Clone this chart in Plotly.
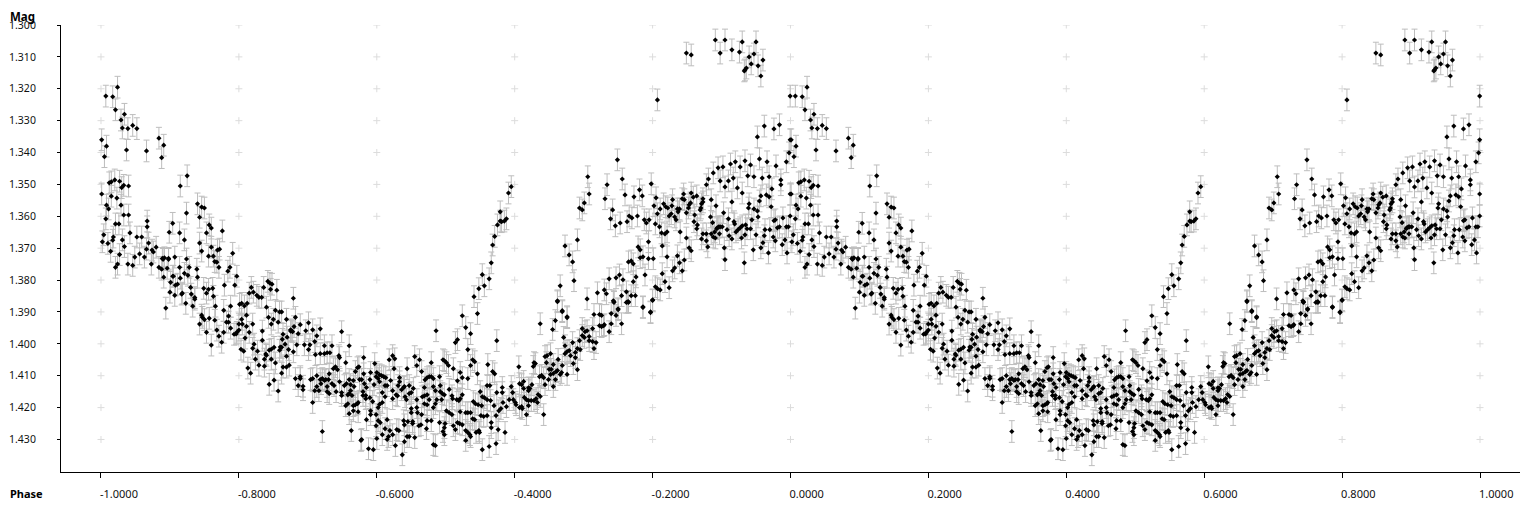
import plotly.graph_objects as go

# Observations read from the reference: (phase, magnitude). The chart shows the
# folded cycle twice, so each one also appears one unit further right.
rise_start = [(-.999,1.336),(-.995,1.3413),(-.992,1.338),(-.993,1.3223),(-.983,1.3225),(-.976,1.3195),(-.979,1.3266),(-.971,1.3298),(-.966,1.328),(-.969,1.3323),(-.961,1.3325),(-.954,1.3315),(-.948,1.3325),(-.963,1.3392),(-.934,1.3395),(-.916,1.3355),(-.909,1.3377),(-.912,1.3416),(-.999,1.353),(-.988,1.3495),(-.985,1.3492),(-.980,1.3486),(-.973,1.349),(-.970,1.351),(-.967,1.3503),(-.960,1.3505),(-.985,1.3537),(-.977,1.3543),(-.992,1.3565),(-.989,1.3577),(-.971,1.3565),(-.993,1.3608),(-.979,1.3624),(-.974,1.3624),(-.967,1.3596),(-.960,1.3596),(-.958,1.3652),(-.996,1.3658),(-.998,1.368),(-.990,1.3685),(-.983,1.3675),(-.982,1.3665),(-.969,1.3674),(-.966,1.3695),(-.986,1.371),(-.973,1.372),(-.951,1.3728),(-.944,1.3718),(-.937,1.3728),(-.948,1.3665),(-.941,1.3665),(-.933,1.3615),(-.933,1.3633),(-.931,1.3684),(-.934,1.3703),(-.926,1.3706),(-.924,1.3712),(-.920,1.3697),(-.911,1.3732),(-.908,1.373),(-.902,1.3732),(-.901,1.365),(-.896,1.3622),(-.893,1.3728),(-.886,1.3652),(-.879,1.3674),(-.876,1.3734),(-.876,1.359),(-.885,1.3505),(-.875,1.3473),(-.860,1.3561),(-.857,1.3603),(-.854,1.3571),(-.850,1.3574),(-.857,1.3684),(-.854,1.3709),(-.847,1.3652),(-.843,1.3627),(-.840,1.3637),(-.840,1.3697),(-.844,1.3725),(-.837,1.3725),(-.831,1.3706),(-.828,1.3703),(-.824,1.3646),(-.809,1.3716)]

descent = [(-.979,1.376),(-.976,1.375),(-.961,1.375),(-.954,1.3754),(-.927,1.375),(-.916,1.376),(-.912,1.3766),(-.909,1.3791),(-.904,1.3763),(-.910,1.3735),(-.902,1.3735),(-.886,1.376),(-.872,1.376),(-.879,1.3779),(-.874,1.3785),(-.899,1.3807),(-.896,1.3788),(-.895,1.3788),(-.892,1.3816),(-.889,1.3813),(-.885,1.3794),(-.900,1.3838),(-.893,1.3848),(-.883,1.3844),(-.882,1.3841),(-.870,1.3823),(-.869,1.3844),(-.864,1.3855),(-.864,1.386),(-.906,1.3888),(-.877,1.3873),(-.867,1.3882),(-.861,1.3766),(-.860,1.3791),(-.829,1.376),(-.832,1.3744),(-.835,1.3742),(-.816,1.3772),(-.813,1.376),(-.803,1.3788),(-.821,1.3816),(-.806,1.3816),(-.851,1.3826),(-.844,1.3829),(-.838,1.3826),(-.847,1.3841),(-.837,1.3851),(-.834,1.3882),(-.822,1.3895),(-.812,1.3882),(-.854,1.391),(-.853,1.3917),(-.850,1.3924),(-.843,1.392),(-.835,1.3926),(-.815,1.3913),(-.818,1.3932),(-.815,1.3932),(-.857,1.3938),(-.800,1.3938),(-.795,1.3938),(-.789,1.3945),(-.780,1.3938),(-.812,1.3951),(-.832,1.3957),(-.847,1.3964),(-.822,1.3964),(-.829,1.3976),(-.825,1.3995),(-.840,1.4004),(-.800,1.3957),(-.803,1.3964),(-.804,1.3969),(-.807,1.397),(-.791,1.3982),(-.785,1.3964),(-.797,1.4017),(-.793,1.4023),(-.778,1.4001),(-.780,1.4014),(-.766,1.396),(-.766,1.3989),(-.773,1.4023),(-.776,1.4048),(-.763,1.4048),(-.771,1.4067),(-.787,1.4076),(-.783,1.4092),(-.763,1.407),(-.756,1.4127),(-.749,1.4114),(-.743,1.4148),(-.760,1.3885),(-.757,1.3917),(-.753,1.3938),(-.750,1.3923),(-.747,1.3895),(-.743,1.3932),(-.741,1.39),(-.738,1.39),(-.731,1.3923),(-.736,1.397),(-.737,1.3986),(-.733,1.4001),(-.730,1.3979),(-.725,1.396),(-.738,1.4011),(-.741,1.402),(-.740,1.401),(-.753,1.4017),(-.749,1.4011),(-.760,1.4036),(-.761,1.4032),(-.756,1.402),(-.753,1.4048),(-.747,1.406),(-.731,1.4039),(-.736,1.4073),(-.738,1.4092),(-.731,1.4073),(-.727,1.4067),(-.758,1.3804),(-.755,1.381),(-.752,1.3813),(-.754,1.3829),(-.745,1.3832),(-.785,1.3841),(-.779,1.3838),(-.774,1.3848),(-.771,1.3854),(-.767,1.3854),(-.782,1.3823),(-.764,1.3823),(-.799,1.3876),(-.796,1.3873),(-.792,1.3881),(-.788,1.3873),(-.789,1.391),(-.796,1.3923)]

minimum_upper = [(-.721,1.3857),(-.718,1.3917),(-.711,1.394),(-.699,1.3934),(-.693,1.3956),(-.682,1.3953),(-.703,1.3959),(-.714,1.3968),(-.720,1.3946),(-.687,1.3975),(-.690,1.3993),(-.697,1.4003),(-.705,1.4003),(-.716,1.4003),(-.722,1.3962),(-.724,1.3959),(-.725,1.3956),(-.721,1.4025),(-.728,1.4018),(-.699,1.4018),(-.689,1.4034),(-.682,1.4031),(-.676,1.4006),(-.665,1.4006),(-.676,1.4031),(-.672,1.4028),(-.668,1.4028),(-.651,1.3962),(-.640,1.4006),(-.655,1.4037),(-.654,1.4043),(-.645,1.4059),(-.619,1.4043),(-.603,1.4062),(-.577,1.4037),(-.582,1.405),(-.574,1.4047),(-.545,1.404),(-.538,1.405),(-.542,1.4068),(-.521,1.4059),(-.535,1.4087),(-.556,1.4078),(-.575,1.4078),(-.504,1.405),(-.502,1.4053),(-.499,1.4059),(-.496,1.4068),(-.489,1.4078),(-.514,1.3959),(-.486,1.3996),(-.483,1.3987),(-.476,1.3912),(-.471,1.3949),(-.468,1.4018),(-.464,1.3968),(-.454,1.3905),(-.459,1.3852),(-.452,1.3827),(-.444,1.3818),(-.447,1.3783),(-.437,1.3796),(-.434,1.3746),(-.426,1.399),(-.461,1.405),(-.458,1.4056),(-.464,1.4068),(-.454,1.4094),(-.439,1.4065),(-.432,1.4087),(-.429,1.4094),(-.479,1.409),(-.476,1.4106),(-.468,1.4109),(-.483,1.4116),(-.394,1.4072),(-.432,1.369),(-.429,1.3663),(-.425,1.3627),(-.421,1.3615)]

minimum_core = [(-.718,1.4109),(-.711,1.4103),(-.711,1.4109),(-.714,1.4131),(-.707,1.4133),(-.707,1.4144),(-.696,1.4112),(-.693,1.4109),(-.693,1.4184),(-.687,1.41),(-.690,1.4147),(-.684,1.4147),(-.687,1.4134),(-.682,1.4112),(-.679,1.4109),(-.681,1.4125),(-.674,1.4112),(-.670,1.4112),(-.669,1.4094),(-.676,1.4115),(-.672,1.4134),(-.672,1.415),(-.669,1.4156),(-.665,1.4125),(-.662,1.4131),(-.659,1.415),(-.657,1.4081),(-.663,1.4078),(-.660,1.4072),(-.654,1.4119),(-.651,1.4153),(-.651,1.4162),(-.647,1.4131),(-.644,1.4125),(-.645,1.4194),(-.642,1.4188),(-.640,1.4112),(-.638,1.4128),(-.640,1.4156),(-.642,1.416),(-.636,1.4162),(-.638,1.4147),(-.634,1.4115),(-.631,1.4087),(-.628,1.4075),(-.626,1.4072),(-.633,1.4134),(-.634,1.4194),(-.631,1.4191),(-.628,1.4188),(-.627,1.4184),(-.640,1.4219),(-.634,1.421),(-.627,1.4213),(-.637,1.4272),(-.679,1.4275),(-.622,1.4112),(-.619,1.4094),(-.618,1.4125),(-.615,1.4137),(-.620,1.415),(-.625,1.4112),(-.620,1.4162),(-.616,1.4162),(-.616,1.4172),(-.610,1.4169),(-.609,1.409),(-.610,1.4112),(-.604,1.4128),(-.601,1.4103),(-.600,1.409),(-.598,1.4109),(-.596,1.4097),(-.593,1.41),(-.590,1.4103),(-.587,1.4106),(-.596,1.4119),(-.588,1.4131),(-.585,1.4131),(-.580,1.4115),(-.592,1.4153),(-.588,1.4166),(-.606,1.4181),(-.596,1.419),(-.592,1.4184),(-.598,1.42),(-.577,1.4147),(-.572,1.416),(-.570,1.4163),(-.577,1.4172),(-.567,1.4106),(-.567,1.4119),(-.569,1.4131),(-.564,1.4144),(-.561,1.4137),(-.560,1.4134),(-.553,1.4131),(-.550,1.4153),(-.553,1.4156),(-.557,1.4175),(-.559,1.4166),(-.547,1.414),(-.542,1.4175),(-.550,1.4203),(-.550,1.4216),(-.542,1.42),(-.541,1.4216),(-.535,1.4222),(-.601,1.4222),(-.609,1.421),(-.609,1.4222),(-.615,1.4238),(-.601,1.4257),(-.598,1.4241),(-.595,1.4247),(-.585,1.4238),(-.588,1.4266),(-.581,1.4272),(-.571,1.4269),(-.568,1.4272),(-.561,1.4241),(-.555,1.4244),(-.548,1.4244),(-.560,1.4254),(-.548,1.425),(-.539,1.4257),(-.536,1.4254),(-.592,1.4285),(-.583,1.4291),(-.585,1.43),(-.577,1.4285),(-.573,1.4319),(-.556,1.4291),(-.553,1.4291),(-.545,1.4294),(-.560,1.4307),(-.563,1.4348),(-.600,1.4297),(-.622,1.43),(-.623,1.4303),(-.612,1.4329),(-.605,1.4332),(-.528,1.4266)]

minimum_late = [(-.531,1.4137),(-.530,1.4113),(-.527,1.4106),(-.524,1.4103),(-.521,1.4103),(-.518,1.4109),(-.534,1.4166),(-.531,1.4163),(-.531,1.4188),(-.527,1.4191),(-.527,1.416),(-.524,1.4175),(-.518,1.4134),(-.515,1.4147),(-.509,1.4103),(-.508,1.4131),(-.508,1.415),(-.505,1.4156),(-.502,1.416),(-.513,1.4175),(-.515,1.4188),(-.506,1.4175),(-.518,1.42),(-.495,1.4143),(-.491,1.4163),(-.490,1.4172),(-.484,1.4175),(-.481,1.4178),(-.479,1.4172),(-.476,1.416),(-.499,1.421),(-.495,1.4216),(-.491,1.4222),(-.479,1.4213),(-.471,1.4216),(-.468,1.4216),(-.464,1.4216),(-.527,1.4241),(-.521,1.4241),(-.509,1.4247),(-.501,1.425),(-.502,1.4263),(-.504,1.4275),(-.502,1.4285),(-.489,1.4257),(-.486,1.4269),(-.483,1.4247),(-.480,1.425),(-.476,1.4254),(-.518,1.4316),(-.515,1.4319),(-.471,1.4272),(-.468,1.4278),(-.465,1.4285),(-.456,1.4278),(-.452,1.4272),(-.451,1.4278),(-.471,1.4303),(-.464,1.4291),(-.461,1.4235),(-.458,1.4238),(-.449,1.4225),(-.445,1.4228),(-.440,1.4225),(-.450,1.415),(-.460,1.4181),(-.457,1.4188),(-.453,1.4191),(-.448,1.4194),(-.447,1.4166),(-.444,1.4169),(-.440,1.4131),(-.436,1.4131),(-.440,1.4175),(-.435,1.4178),(-.430,1.4194),(-.426,1.4153),(-.434,1.4247),(-.434,1.4263),(-.427,1.4313),(-.437,1.4322),(-.447,1.4332),(-.424,1.4269),(-.414,1.4278),(-.427,1.4225),(-.423,1.421),(-.420,1.4203),(-.412,1.4197),(-.417,1.4184),(-.418,1.4137),(-.418,1.4153),(-.408,1.4175),(-.405,1.4134),(-.403,1.4153),(-.402,1.4175),(-.399,1.4184),(-.393,1.4125),(-.393,1.42),(-.398,1.4191)]

rising_branch = [(-.390,1.4128),(-.387,1.4118),(-.375,1.4128),(-.380,1.4138),(-.378,1.414),(-.380,1.4147),(-.387,1.414),(-.386,1.4168),(-.383,1.4175),(-.380,1.4178),(-.376,1.4178),(-.372,1.4178),(-.369,1.4172),(-.367,1.4184),(-.366,1.4159),(-.363,1.4165),(-.380,1.4194),(-.390,1.4197),(-.389,1.4203),(-.383,1.4222),(-.358,1.4222),(-.373,1.4071),(-.372,1.4059),(-.370,1.4062),(-.363,1.3937),(-.345,1.3955),(-.341,1.3927),(-.338,1.3868),(-.331,1.3899),(-.324,1.3918),(-.329,1.398),(-.327,1.4006),(-.316,1.3996),(-.306,1.399),(-.302,1.3952),(-.302,1.3974),(-.299,1.398),(-.298,1.3962),(-.295,1.3959),(-.287,1.3952),(-.292,1.3977),(-.292,1.399),(-.287,1.3993),(-.282,1.3996),(-.285,1.4015),(-.309,1.4015),(-.305,1.4018),(-.312,1.4027),(-.312,1.4043),(-.327,1.4031),(-.324,1.4024),(-.321,1.4021),(-.319,1.4037),(-.315,1.4062),(-.309,1.4081),(-.324,1.4096),(-.331,1.4068),(-.337,1.4049),(-.344,1.4065),(-.354,1.4059),(-.356,1.404),(-.353,1.4037),(-.348,1.4031),(-.350,1.408),(-.347,1.408),(-.348,1.4096),(-.344,1.4093),(-.338,1.4084),(-.340,1.4087),(-.332,1.409),(-.334,1.4096),(-.364,1.4103),(-.361,1.4099),(-.358,1.4106),(-.351,1.4112),(-.356,1.4128),(-.341,1.4112),(-.344,1.4134),(-.285,1.3908),(-.277,1.3908),(-.274,1.3911),(-.277,1.3943),(-.274,1.3946),(-.271,1.3943),(-.270,1.394),(-.263,1.3962),(-.260,1.3937),(-.260,1.3905),(-.253,1.3911),(-.250,1.3893),(-.245,1.3937),(-.256,1.387),(-.238,1.387),(-.235,1.387),(-.214,1.3886),(-.203,1.3902),(-.200,1.3864)]

maximum_side = [(-.405,1.3507),(-.409,1.3527),(-.412,1.3608),(-.415,1.3615),(-.419,1.3617),(-.421,1.3586),(-.294,1.3476),(-.292,1.353),(-.299,1.3558),(-.306,1.3574),(-.302,1.358),(-.309,1.3674),(-.327,1.3693),(-.321,1.3721),(-.316,1.3743),(-.314,1.3802),(-.334,1.3818),(-.338,1.3865),(-.331,1.3896),(-.324,1.3915),(-.295,1.3859),(-.280,1.384),(-.270,1.3831),(-.267,1.3843),(-.263,1.3796),(-.253,1.3793),(-.248,1.3784),(-.243,1.3799),(-.245,1.3849),(-.238,1.3837),(-.257,1.3865),(-.256,1.3868),(-.250,1.389),(-.236,1.3868),(-.235,1.3868),(-.231,1.3849),(-.225,1.3849),(-.228,1.3805),(-.224,1.379),(-.235,1.3743),(-.231,1.374),(-.228,1.3749),(-.221,1.3696),(-.218,1.3705),(-.218,1.373),(-.214,1.3727),(-.206,1.3733),(-.199,1.3733),(-.206,1.368),(-.211,1.3784),(-.214,1.3884),(-.203,1.39),(-.200,1.3862),(-.196,1.3821),(-.193,1.3827),(-.189,1.3831),(-.176,1.3824),(-.182,1.3805),(-.186,1.378),(-.171,1.3771),(-.168,1.3762),(-.157,1.3771),(-.161,1.3746),(-.164,1.3724),(-.154,1.3737),(-.147,1.3699),(-.144,1.3708),(-.179,1.3727),(-.186,1.3693),(-.160,1.3649),(-.151,1.3668)]

maximum_band = [(-.269,1.3545),(-.266,1.3501),(-.251,1.3423),(-.244,1.3483),(-.240,1.3533),(-.258,1.358),(-.261,1.3608),(-.254,1.363),(-.247,1.3621),(-.237,1.3617),(-.234,1.3599),(-.230,1.3605),(-.222,1.3599),(-.227,1.3539),(-.219,1.3517),(-.215,1.3536),(-.212,1.3611),(-.209,1.3621),(-.205,1.3611),(-.202,1.3498),(-.195,1.3542),(-.198,1.3567),(-.193,1.3592),(-.196,1.3624),(-.190,1.3633),(-.189,1.3577),(-.187,1.3652),(-.182,1.3655),(-.179,1.3649),(-.184,1.3561),(-.181,1.357),(-.178,1.3574),(-.172,1.3567),(-.171,1.3548),(-.176,1.3599),(-.173,1.3592),(-.168,1.3602),(-.166,1.3611),(-.164,1.3577),(-.161,1.3577),(-.163,1.3586),(-.157,1.3545),(-.154,1.3548),(-.155,1.353),(-.151,1.3589),(-.148,1.3574),(-.147,1.3564),(-.145,1.3558),(-.144,1.3527),(-.141,1.354),(-.136,1.3536),(-.140,1.3617),(-.139,1.3596),(-.135,1.3627),(-.136,1.3639),(-.131,1.358),(-.130,1.3574),(-.129,1.3561),(-.127,1.3555),(-.127,1.3545),(-.129,1.3671),(-.127,1.3655),(-.122,1.3655),(-.122,1.3677),(-.120,1.3696),(-.122,1.3501),(-.119,1.3483),(-.112,1.3464),(-.105,1.3448),(-.098,1.3445),(-.087,1.3436),(-.080,1.3429),(-.073,1.3445),(-.066,1.3426),(-.058,1.3439),(-.045,1.342),(-.034,1.3429),(-.021,1.3442),(-.006,1.3429)]

maximum_top = [(-.048,1.3351),(-.038,1.3317),(-.024,1.3326),(-.016,1.3313),(-.002,1.3401),(-.0005,1.336),(-.0005,1.3223),(-.151,1.3088),(-.144,1.3094),(-.193,1.3235),(-.109,1.3047),(-.102,1.3088),(-.095,1.3047),(-.085,1.3078),(-.074,1.3085),(-.070,1.3053),(-.060,1.31),(-.057,1.3122),(-.067,1.3144),(-.066,1.3141),(-.064,1.3135),(-.053,1.3091),(-.050,1.3053),(-.047,1.3128),(-.043,1.316),(-.040,1.311)]

maximum_core = [(-.102,1.3489),(-.095,1.3508),(-.090,1.3489),(-.083,1.348),(-.077,1.3511),(-.070,1.3527),(-.062,1.3473),(-.053,1.3476),(-.041,1.348),(-.031,1.3476),(-.014,1.3486),(-.014,1.3501),(-.027,1.3514),(-.035,1.3533),(-.031,1.3539),(-.043,1.3536),(-.045,1.3552),(-.0005,1.353),(-.115,1.3548),(-.108,1.3567),(-.085,1.3555),(-.116,1.3602),(-.113,1.362),(-.097,1.3589),(-.090,1.3608),(-.082,1.3617),(-.081,1.3624),(-.060,1.3561),(-.061,1.3574),(-.053,1.3577),(-.048,1.3583),(-.047,1.3602),(-.056,1.3611),(-.065,1.3627),(-.070,1.363),(-.073,1.3636),(-.076,1.3642),(-.079,1.3649),(-.063,1.3639),(-.058,1.3639),(-.066,1.3658),(-.071,1.3668),(-.050,1.3658),(-.085,1.3671),(-.089,1.3661),(-.092,1.3642),(-.096,1.3699),(-.095,1.3736),(-.067,1.3746),(-.054,1.3705),(-.043,1.3699),(-.032,1.3715),(-.040,1.3683),(-.038,1.3661),(-.037,1.3642),(-.030,1.3642),(-.022,1.3611),(-.024,1.3614),(-.028,1.357),(-.011,1.3605),(-.019,1.3636),(-.016,1.3633),(-.006,1.3633),(-.003,1.3633),(-.0005,1.3599),(-.025,1.3665),(-.022,1.3677),(-.008,1.3674),(-.012,1.3689),(-.005,1.3715),(-.104,1.3633),(-.102,1.3633),(-.099,1.3633),(-.106,1.3636),(-.107,1.3639),(-.110,1.3649),(-.115,1.3655),(-.112,1.3665),(-.109,1.3668),(-.103,1.3655)]

mag_error = 0.0034
phase_ticks = [-1.0, -0.8, -0.6, -0.4, -0.2, 0.0, 0.2, 0.4, 0.6, 0.8, 1.0]
phase_labels = ["-1.0000", "-0.8000", "-0.6000", "-0.4000", "-0.2000", "0.0000", "0.2000", "0.4000", "0.6000", "0.8000", "1.0000"]
mag_ticks = [1.30, 1.31, 1.32, 1.33, 1.34, 1.35, 1.36, 1.37, 1.38, 1.39, 1.40, 1.41, 1.42, 1.43]
mag_labels = ["1.300", "1.310", "1.320", "1.330", "1.340", "1.350", "1.360", "1.370", "1.380", "1.390", "1.400", "1.410", "1.420", "1.430"]

observations = (rise_start + descent + minimum_upper + minimum_core + minimum_late
                + rising_branch + maximum_side + maximum_band + maximum_top + maximum_core)
phase = [p for p, _ in observations]
mag = [m for _, m in observations]
phase_all = phase + [p + 1 for p in phase]
mag_all = mag + mag

TEXT = "#111111"
FONT = "Noto Sans"

fig = go.Figure()
fig.add_trace(go.Scatter(
    x=[x for x in phase_ticks for _ in mag_ticks],
    y=[y for _ in phase_ticks for y in mag_ticks],
    mode="markers", hoverinfo="skip", showlegend=False,
    marker=dict(symbol="cross-thin", size=5, line=dict(width=1, color="#dcdcdc")),
))
fig.add_trace(go.Scatter(
    x=phase_all, y=mag_all, mode="markers", showlegend=False,
    marker=dict(symbol="diamond", size=4, color="#000000"),
    error_y=dict(type="constant", value=mag_error, color="#bdbdbd", thickness=1, width=3),
))

fig.update_layout(
    width=1536, height=512,
    margin=dict(l=60.5, r=16, t=25, b=40),
    paper_bgcolor="white", plot_bgcolor="white",
    font=dict(family=FONT, size=10.5, color=TEXT),
    xaxis=dict(range=[-1.058, 1.058], tickvals=phase_ticks, ticktext=phase_labels, automargin=False,
               showgrid=False, zeroline=False, showline=True, linecolor="black", linewidth=1,
               ticks="outside", ticklen=5, tickcolor="black", ticklabelposition="outside right",
               ticklabelstandoff=12, ticklabelshift=-2, tickfont=dict(family=FONT, size=11, color=TEXT)),
    yaxis=dict(range=[1.4402, 1.300], tickvals=mag_ticks, ticktext=mag_labels, automargin=False,
               showgrid=False, zeroline=False, showline=True, linecolor="black", linewidth=1,
               ticks="outside", ticklen=3, tickcolor="black", ticklabelstandoff=19,
               tickfont=dict(family=FONT, size=10.5, color=TEXT)),
    annotations=[
        dict(text="<b>Mag</b>", xref="paper", yref="paper", x=-0.0365, y=1.018, xanchor="left",
             yanchor="middle", showarrow=False, font=dict(family=FONT, size=11.5, color="#000000")),
        dict(text="<b>Phase</b>", xref="paper", yref="paper", x=-0.0365, y=-0.048, xanchor="left",
             yanchor="middle", showarrow=False, font=dict(family=FONT, size=11, color="#000000")),
    ],
)
fig.write_html("out.html", config={"displayModeBar": False},
               post_script="document.body.style.margin='0';document.body.style.overflow='hidden';")
